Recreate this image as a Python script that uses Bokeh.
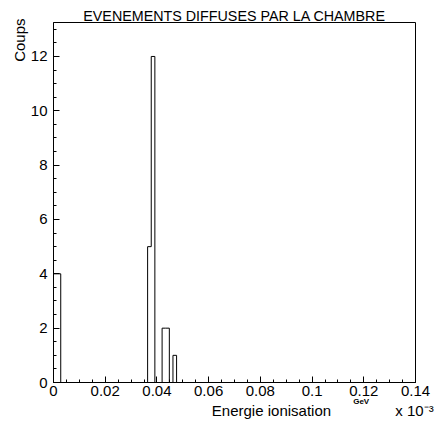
import numpy as np
from bokeh.plotting import figure
from bokeh.models import (FixedTicker, NumeralTickFormatter, Range1d, Title,
                          LinearAxis)
from bokeh.embed import file_html
from bokeh.resources import INLINE

# ---- texts ----
title_text = "EVENEMENTS DIFFUSES PAR LA CHAMBRE"
x_label = "Energie ionisation"
y_label = "Coups"
unit_label = "GeV"
scale_label = "x 10\u207b\u00b3"

# ---- histogram data (100 bins from 0 to 0.14, x 10^-3 GeV) ----
n_bins = 100
x_min = 0.0
x_max = 0.14
filled_bins = [0, 1, 26, 27, 30, 31, 33]
bin_counts = [4, 4, 5, 12, 2, 2, 1]
y_max = 13.25

# ---- ticks ----
x_major = [0, 0.02, 0.04, 0.06, 0.08, 0.1, 0.12, 0.14]
y_major = [0, 2, 4, 6, 8, 10, 12]
x_minor_step = 0.005
y_minor_step = 0.5

# anchor positions (data x, label centres) for the texts under the axis
unit_pos = 0.119
x_label_pos = 0.0843
scale_pos = 0.1396

FONT = "Liberation Sans"

edges = np.linspace(x_min, x_max, n_bins + 1)
counts = np.zeros(n_bins)
counts[filled_bins] = bin_counts
xs = np.repeat(edges, 2)
ys = np.concatenate([[0], np.repeat(counts, 2), [0]])

p = figure(width=438, height=423, output_backend="svg", toolbar_location=None,
           x_range=Range1d(x_min, x_max), y_range=Range1d(0, y_max),
           min_border_left=53, min_border_right=23, min_border_top=22,
           min_border_bottom=41)
p.xgrid.visible = False
p.ygrid.visible = False
p.outline_line_color = "black"
p.outline_line_alpha = 1
p.outline_line_width = 1
p.background_fill_color = "white"
p.border_fill_color = "white"

p.line(xs, ys, line_color="black", line_width=1)

x_minor = list(np.round(np.arange(x_min, x_max + 1e-9, x_minor_step), 4))
y_minor = list(np.round(np.arange(0, y_max, y_minor_step), 2))
p.xaxis.ticker = FixedTicker(ticks=x_major, minor_ticks=x_minor)
p.yaxis.ticker = FixedTicker(ticks=y_major, minor_ticks=y_minor)
p.xaxis.formatter = NumeralTickFormatter(format="0.[00]")
p.yaxis.formatter = NumeralTickFormatter(format="0")

for ax in (p.xaxis, p.yaxis):
    ax.axis_line_color = "black"
    ax.major_tick_line_color = "black"
    ax.minor_tick_line_color = "black"
    ax.major_tick_in = 6
    ax.major_tick_out = 0
    ax.minor_tick_in = 3
    ax.minor_tick_out = 0
    ax.major_label_text_font = FONT
    ax.major_label_text_font_size = "15px"
    ax.major_label_text_color = "black"
p.xaxis.major_label_standoff = 3
p.yaxis.major_label_standoff = 6

# unit text under the 0.12 label
unit_axis = LinearAxis(ticker=FixedTicker(ticks=[unit_pos]),
                       major_label_overrides={unit_pos: unit_label},
                       axis_line_color=None, major_tick_line_color=None,
                       minor_tick_line_color=None, major_tick_in=0, major_tick_out=0,
                       minor_tick_in=0, minor_tick_out=0,
                       major_label_standoff=-2,
                       major_label_text_font=FONT, major_label_text_font_size="8px",
                       major_label_text_font_style="bold",
                       major_label_text_color="black")
p.add_layout(unit_axis, "below")

# axis title and scale factor
label_axis = LinearAxis(ticker=FixedTicker(ticks=[x_label_pos, scale_pos]),
                        major_label_overrides={x_label_pos: x_label,
                                               scale_pos: scale_label},
                        axis_line_color=None, major_tick_line_color=None,
                        minor_tick_line_color=None, major_tick_in=0, major_tick_out=0,
                        minor_tick_in=0, minor_tick_out=0,
                        major_label_standoff=-7,
                        major_label_text_font=FONT, major_label_text_font_size="15px",
                        major_label_text_color="black")
p.add_layout(label_axis, "below")

p.add_layout(Title(text=title_text, align="center", text_font=FONT,
                   text_font_size="14.3px", text_font_style="normal",
                   vertical_align="bottom",
                   text_color="black", standoff=-2, offset=0), "above")
p.add_layout(Title(text=y_label, align="right", text_font=FONT,
                   text_font_size="15px", text_font_style="normal",
                   text_color="black", standoff=0, offset=-4), "left")

open("out.html", "w").write(file_html(p, INLINE))
